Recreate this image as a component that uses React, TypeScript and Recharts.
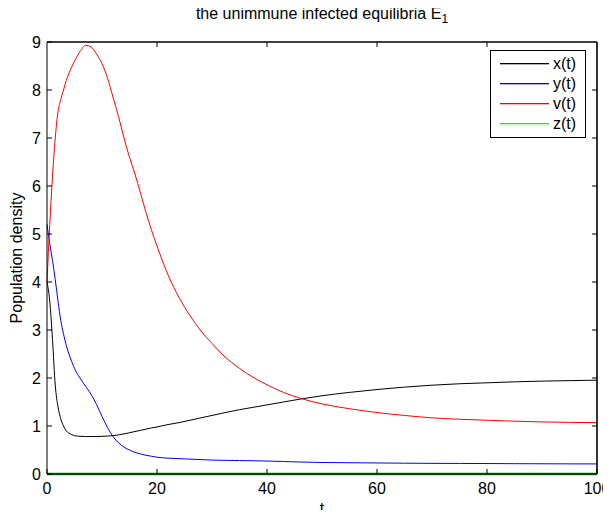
import React from 'react';
import { LineChart, Line, XAxis, YAxis, CartesianGrid } from 'recharts';

const tValues = [0, 0.5, 1, 1.5, 2, 2.5, 3, 3.5, 4, 5, 6, 7, 8, 9, 10, 11, 12, 13, 14, 15, 16, 17, 18, 19, 20, 22, 24, 26, 28, 30, 32, 35, 38, 40, 43, 46, 50, 55, 60, 65, 70, 75, 80, 85, 90, 95, 100];
const xValues = [4.0, 3.6, 2.8, 1.85, 1.4, 1.15, 1.0, 0.9, 0.85, 0.8, 0.785, 0.78, 0.78, 0.78, 0.785, 0.79, 0.8, 0.815, 0.835, 0.86, 0.885, 0.91, 0.935, 0.96, 0.98, 1.03, 1.07, 1.12, 1.17, 1.22, 1.27, 1.34, 1.4, 1.44, 1.5, 1.56, 1.63, 1.7, 1.76, 1.81, 1.85, 1.88, 1.9, 1.92, 1.935, 1.945, 1.955];
const yValues = [5.2, 4.8, 4.45, 4.05, 3.6, 3.2, 2.92, 2.68, 2.5, 2.2, 2.0, 1.83, 1.66, 1.45, 1.2, 0.97, 0.78, 0.65, 0.56, 0.5, 0.45, 0.42, 0.39, 0.37, 0.35, 0.33, 0.32, 0.31, 0.3, 0.29, 0.285, 0.28, 0.275, 0.27, 0.26, 0.25, 0.24, 0.235, 0.23, 0.225, 0.222, 0.22, 0.218, 0.215, 0.213, 0.211, 0.21];
const vValues = [4.0, 5.2, 6.2, 7.0, 7.55, 7.8, 8.0, 8.2, 8.35, 8.6, 8.8, 8.93, 8.9, 8.75, 8.55, 8.25, 7.85, 7.45, 7.0, 6.6, 6.25, 5.85, 5.45, 5.08, 4.75, 4.15, 3.68, 3.3, 2.98, 2.72, 2.48, 2.2, 1.98, 1.86, 1.7, 1.58, 1.46, 1.36, 1.28, 1.22, 1.17, 1.14, 1.12, 1.1, 1.085, 1.075, 1.07];
const zValues = [0, 0, 0, 0, 0, 0, 0, 0, 0, 0, 0, 0, 0, 0, 0, 0, 0, 0, 0, 0, 0, 0, 0, 0, 0, 0, 0, 0, 0, 0, 0, 0, 0, 0, 0, 0, 0, 0, 0, 0, 0, 0, 0, 0, 0, 0, 0];

const xTicks = [0, 20, 40, 60, 80, 100];
const yTicks = [0, 1, 2, 3, 4, 5, 6, 7, 8, 9];
const X_MAX = 100;
const Y_MAX = 9;

const series = [
  { key: 'x', name: 'x(t)', color: '#000000', legend: '#000000', width: 1 },
  { key: 'y', name: 'y(t)', color: '#0000ff', legend: '#0000ff', width: 1 },
  { key: 'v', name: 'v(t)', color: '#ff0000', legend: '#ff0000', width: 1 },
  { key: 'z', name: 'z(t)', color: '#0a960a', legend: '#00ff00', width: 2.5 },
];

const data = tValues.map((t, i) => ({ t, x: xValues[i], y: yValues[i], v: vValues[i], z: zValues[i] }));

const FONT = '"Liberation Sans", Arial, Helvetica, sans-serif';
const tickStyle = { fill: '#000', fontSize: 16, fontFamily: FONT };

// plot box in page pixels (matches the chart margins below)
const PLOT = { left: 47, top: 42, width: 550, height: 432 };

// inward ticks along the top and right edges of the box
function FrameTicks() {
  return (
    <svg width={611} height={518} style={{ position: 'absolute', left: 0, top: 0, pointerEvents: 'none' }}>
      <line x1={PLOT.left} x2={PLOT.left + PLOT.width} y1={PLOT.top} y2={PLOT.top} stroke="#000" strokeWidth={1.2} />
      <line x1={PLOT.left + PLOT.width} x2={PLOT.left + PLOT.width} y1={PLOT.top} y2={PLOT.top + PLOT.height} stroke="#000" strokeWidth={1.2} />
      {xTicks.slice(1, -1).map((t) => {
        const px = PLOT.left + (t / X_MAX) * PLOT.width;
        return <line key={`tt${t}`} x1={px} x2={px} y1={PLOT.top} y2={PLOT.top + 5} stroke="#000" />;
      })}
      {yTicks.slice(1, -1).map((v) => {
        const py = PLOT.top + (1 - v / Y_MAX) * PLOT.height;
        return <line key={`rt${v}`} x1={PLOT.left + PLOT.width - 5} x2={PLOT.left + PLOT.width} y1={py} y2={py} stroke="#000" />;
      })}
    </svg>
  );
}

// legend drawn as a small svg box in the upper right corner of the plot
function LegendBox() {
  return (
    <svg width={96} height={88} style={{ position: 'absolute', left: 490, top: 50 }}>
      <rect x={0.5} y={0.5} width={95} height={87} fill="#fff" stroke="#000" />
      {series.map((s, i) => (
        <g key={s.key}>
          <rect x={10} y={13 + i * 20} width={49} height={1.3} fill={s.legend} />
          <text x={63} y={19 + i * 20} fontFamily={FONT} fontSize={16} fill="#000">{s.name}</text>
        </g>
      ))}
    </svg>
  );
}

export default function App() {
  return (
    <div style={{ position: 'relative', margin: -8, width: 611, height: 518, background: '#fff' }}>
      <div style={{ position: 'absolute', left: 47, width: 550, top: 5, textAlign: 'center', fontFamily: FONT, fontSize: 16, zIndex: 2 }}>
        the unimmune infected equilibria E<sub style={{ fontSize: 12 }}>1</sub>
      </div>
      <LineChart width={611} height={518} data={data} margin={{ top: 42, right: 14, bottom: 14, left: 7 }}>
        <CartesianGrid horizontalValues={[Y_MAX]} verticalValues={[X_MAX]} stroke="#000" strokeOpacity={1} />
        <XAxis
          dataKey="t"
          type="number"
          domain={[0, X_MAX]}
          ticks={xTicks}
          tick={tickStyle}
          tickSize={-5}
          tickMargin={14}
          axisLine={{ stroke: '#000' }}
          tickLine={{ stroke: '#000' }}
          height={30}
          label={{ value: 't', position: 'center', dy: 19, style: { fill: '#000', fontSize: 16, fontFamily: FONT } }}
        />
        <YAxis
          type="number"
          domain={[0, Y_MAX]}
          ticks={yTicks}
          tick={tickStyle}
          tickSize={-5}
          tickMargin={11}
          axisLine={{ stroke: '#000' }}
          tickLine={{ stroke: '#000' }}
          width={40}
          label={{ value: 'Population density', angle: -90, position: 'center', dx: -11, style: { fill: '#000', fontSize: 16, fontFamily: FONT, textAnchor: 'middle' } }}
        />
        {series.map((s) => (
          <Line
            key={s.key}
            type="monotone"
            dataKey={s.key}
            name={s.name}
            stroke={s.color}
            strokeWidth={s.width}
            dot={false}
            isAnimationActive={false}
          />
        ))}
      </LineChart>
      <FrameTicks />
      <LegendBox />
    </div>
  );
}
